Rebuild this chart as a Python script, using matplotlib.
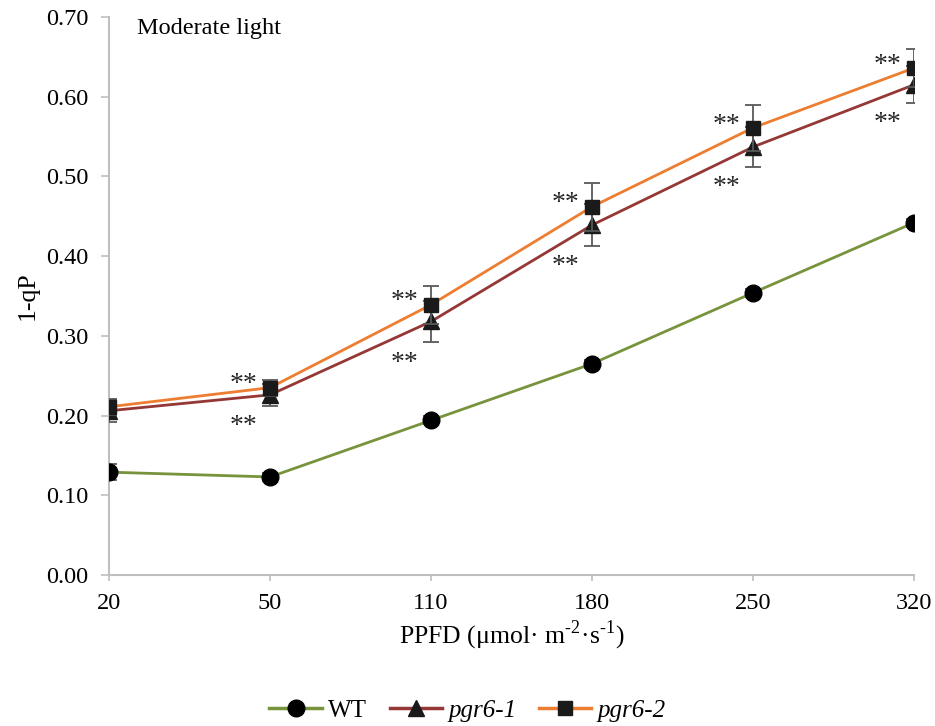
import matplotlib

matplotlib.use("Agg")
import matplotlib.pyplot as plt
import numpy as np
from matplotlib.lines import Line2D

plt.rcParams["font.family"] = ["Liberation Serif", "DejaVu Serif"]
plt.rcParams["mathtext.fontset"] = "custom"
plt.rcParams["mathtext.rm"] = "Liberation Serif"

PPFD = ["20", "50", "110", "180", "250", "320"]

WT = [0.129, 0.123, 0.194, 0.265, 0.354, 0.442]
WT_ERR = [0.010, 0.005, 0.005, 0.005, 0.005, 0.005]

PGR6_1 = [0.206, 0.226, 0.318, 0.439, 0.537, 0.615]
PGR6_1_ERR = [0.014, 0.014, 0.026, 0.026, 0.025, 0.023]

PGR6_2 = [0.211, 0.235, 0.339, 0.462, 0.561, 0.636]
PGR6_2_ERR = [0.010, 0.010, 0.024, 0.030, 0.029, 0.024]

# which points carry "**" (index into PPFD)
SIG_1 = [1, 2, 3, 4, 5]
SIG_2 = [1, 2, 3, 4, 5]

GREEN = "#77933C"
DARKRED = "#953735"
ORANGE = "#ED7D31"
GRID = "#BFBFBF"

fig = plt.figure(figsize=(9.35, 7.26), dpi=100)
ax = fig.add_axes([0.1166, 0.208, 0.861, 0.7686])
x = np.arange(len(PPFD))

err_kw = dict(ecolor="#595959", elinewidth=1.3, capsize=6, capthick=1.3)
series = [
    (WT, WT_ERR, GREEN, "o", 12, "black", "WT", 3),
    (PGR6_1, PGR6_1_ERR, DARKRED, "^", 12, "#1a1a1a", "pgr6-1", 3),
    (PGR6_2, PGR6_2_ERR, ORANGE, "s", 10.5, "#1a1a1a", "pgr6-2", 4),
]
handles = []
for vals, errs, col, mk, ms, mcol, lab, z in series:
    ax.errorbar(x, vals, yerr=errs, color=col, lw=2, marker=mk, ms=ms,
                mfc=mcol, mec=mcol, zorder=z, **err_kw)
    handles.append(Line2D([], [], color=col, lw=2.5, marker=mk, ms=ms,
                          mfc=mcol, mec=mcol, label=lab))

for i in SIG_2:
    ax.annotate("**", (x[i], PGR6_2[i]), xytext=(-19, 2), textcoords="offset points",
                ha="center", va="center", fontsize=20, color="#262626")
for i in SIG_1:
    ax.annotate("**", (x[i], PGR6_1[i] - PGR6_1_ERR[i]), xytext=(-19, -15),
                textcoords="offset points", ha="center", va="center",
                fontsize=20, color="#262626")

ax.set_xlim(0, 5)
ax.set_ylim(0, 0.70)
ax.set_xticks(x)
ax.set_xticklabels(PPFD)
ax.set_yticks(np.arange(0, 0.71, 0.10))
ax.set_yticklabels([f"{v:.2f}" for v in np.arange(0, 0.71, 0.10)])
ax.tick_params(axis="x", length=4, width=1.2, color=GRID, labelsize=17.5, pad=9)
ax.tick_params(axis="y", length=6, width=1.2, color=GRID, labelsize=17.5, pad=9)
for s in ("top", "right"):
    ax.spines[s].set_visible(False)
for s in ("left", "bottom"):
    ax.spines[s].set_color(GRID)
    ax.spines[s].set_linewidth(1.5)
for s in ax.spines.values():
    s.set_clip_on(False)

ax.set_ylabel("1-qP", fontsize=18.5, labelpad=5)
ax.set_xlabel("PPFD (μmol· m$^{\\mathregular{\u20102}}$·s$^{\\mathregular{\u20101}}$)",
              fontsize=18.5, labelpad=3)
ax.text(0.035, 0.998, "Moderate light", transform=ax.transAxes, fontsize=17.5,
        ha="left", va="top")

leg = fig.legend(handles=handles, loc="center", bbox_to_anchor=(0.5, 0.021), ncol=3,
                 frameon=False, fontsize=18, handlelength=2.1, columnspacing=0.9,
                 handletextpad=0.25)
for t in leg.get_texts()[1:]:
    t.set_style("italic")

fig.savefig("out.png", dpi=100)
